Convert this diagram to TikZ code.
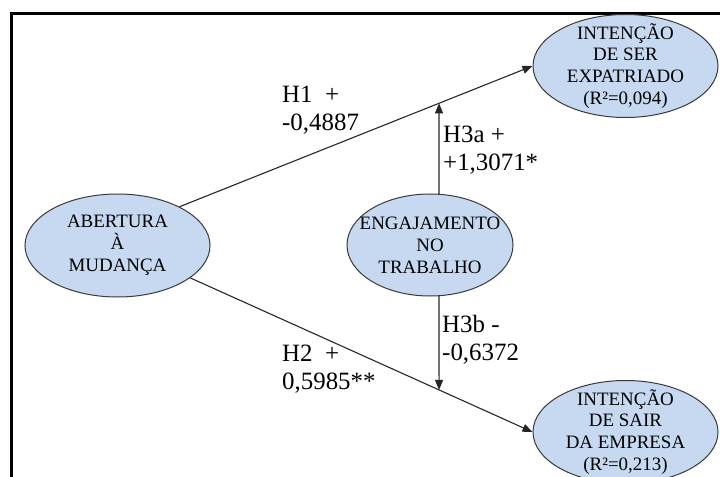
\documentclass[tikz,border=0pt]{standalone}
\usepackage{fontspec}
\setmainfont{Liberation Serif}
\usetikzlibrary{arrows.meta,shapes.geometric}
\definecolor{ellfill}{HTML}{C6D9F1}
\definecolor{ellline}{HTML}{3A3A3A}
\begin{document}
\begin{tikzpicture}[x=1bp,y=-1bp,
  construct/.style={ellipse, draw=ellline, line width=1bp, fill=ellfill, inner sep=0pt,
    minimum width=185bp, minimum height=103bp},
  ctext/.style={font=\fontsize{19}{22}\selectfont, align=center, inner sep=0pt},
  conn/.style={draw=black!85, line width=1.1bp, -{Triangle[length=10bp,width=8bp]}},
  coef/.style={font=\fontsize{25}{28}\selectfont, align=left, anchor=west, inner sep=0pt}]
\useasboundingbox (0,0) rectangle (720,477);
% frame
\draw[line width=2.6bp] (11.5,477) -- (11.5,13.5) -- (720,13.5);
% constructs
\node[construct, label={[ctext]center:{ABERTURA\\À\\MUDANÇA}}] (ab) at (117.5,245.5) {};
\node[construct, label={[ctext]center:{INTENÇÃO\\DE SER\\EXPATRIADO\\(R²=0,094)}}] (ser) at (625.5,66) {};
\node[construct, minimum width=166bp, minimum height=102bp,
  label={[ctext]center:{ENGAJAMENTO\\NO\\TRABALHO}}] (eng) at (430,245) {};
\node[construct, label={[ctext]center:{INTENÇÃO\\DE SAIR\\DA EMPRESA\\(R²=0,213)}}] (sair) at (625.5,432) {};
% connectors
\draw[conn] (ab.32) -- (ser.west);
\draw[conn] (ab.-24) -- (sair.west);
\coordinate (j1) at (intersection cs: first line={(ab.32)--(ser.west)}, second line={(eng.80)--(eng.-80)});
\coordinate (j2) at (intersection cs: first line={(ab.-24)--(sair.west)}, second line={(eng.80)--(eng.-80)});
\draw[conn] (eng.80) -- (j1);
\draw[conn] (eng.-80) -- (j2);
% coefficients
\node[coef] (l1) at (282,110.5) {H1\ \ +\\-0,4887};
\node[coef] (l3a) at (443,150) {H3a +\\+1,3071*};
\node[coef] (l2) at (282,369.5) {H2\ \ +\\0,5985**};
\node[coef] (l3b) at (442,339.5) {H3b -\\-0,6372};
\end{tikzpicture}
\end{document}
